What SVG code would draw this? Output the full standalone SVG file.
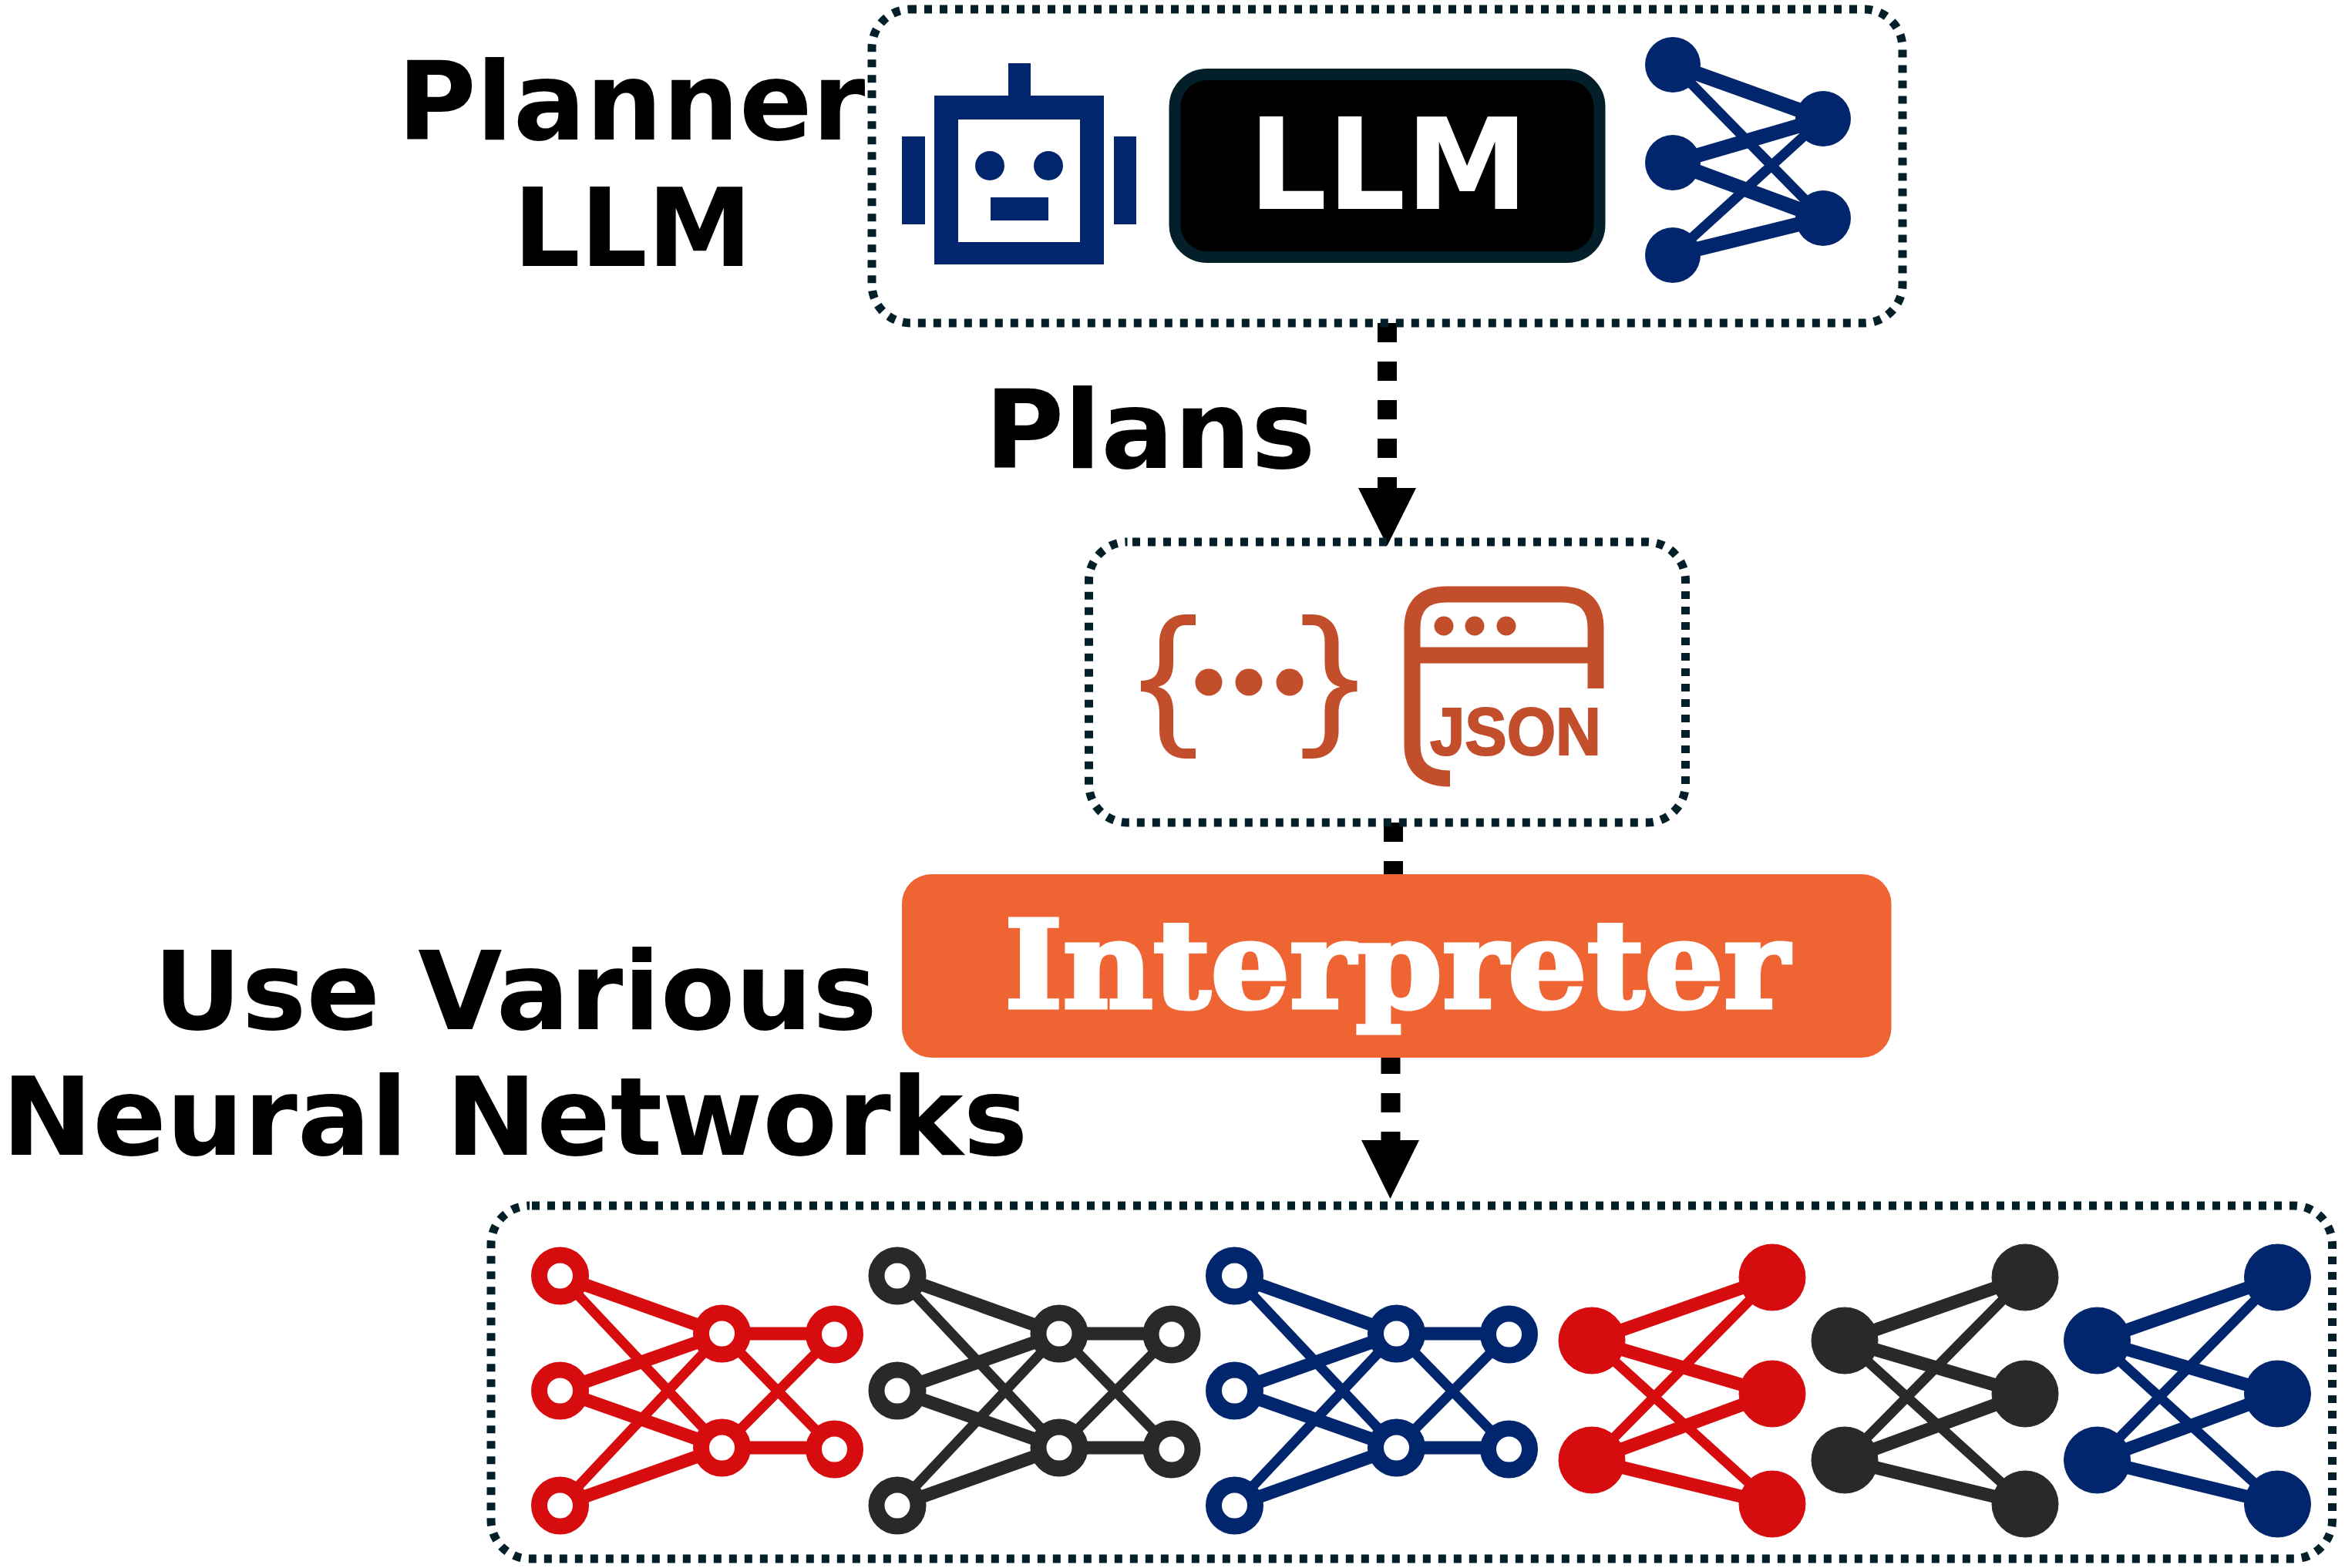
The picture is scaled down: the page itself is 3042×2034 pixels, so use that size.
<svg xmlns="http://www.w3.org/2000/svg" width="3042" height="2034" viewBox="0 0 3042 2034">
<style>
.box{fill:none;stroke:#03202a;stroke-width:11;stroke-dasharray:10 10}
.lbl{font-family:"DejaVu Sans","Liberation Sans",sans-serif;font-weight:700;font-size:141px;fill:#000}
.nr{fill:#d70c0f}.nk{fill:#292929}.nb{fill:#02266e}
.sr{stroke:#d70c0f}.sk{stroke:#292929}.sb{stroke:#02266e}
.t{stroke-width:17;fill:none}.n{stroke-width:13;fill:none}
.hole{fill:#fff;stroke-width:21}
.flow{stroke:#000;stroke-width:25;stroke-dasharray:25 25;fill:none}
.br{fill:#c24e2c}.jl{fill:none;stroke:#c24e2c;stroke-width:21}
</style>
<defs>
<g id="hollow">
<path class="t" d="M0 0L210 75M0 149L210 75M0 149L210 223M0 298L210 223M210 75H356M210 223H356"/>
<path class="n" d="M0 0L210 223M0 298L210 75M210 75L356 225M210 223L356 76"/>
</g>
<g id="hnodes">
<circle cx="0" cy="0" r="27"/><circle cx="0" cy="149" r="27"/><circle cx="0" cy="298" r="27"/>
<circle cx="210" cy="75" r="27"/><circle cx="210" cy="223" r="27"/><circle cx="356" cy="76" r="27"/><circle cx="356" cy="225" r="27"/>
</g>
<g id="solid">
<path class="t" d="M0 0L234 -82M0 0L234 69M0 155L234 69M0 155L234 212"/>
<path class="n" d="M0 0L234 212M0 155L234 -82"/>
<circle cx="0" cy="0" r="43"/><circle cx="0" cy="155" r="43"/><circle cx="234" cy="-82" r="43"/><circle cx="234" cy="69" r="43"/><circle cx="234" cy="212" r="43"/>
</g>
</defs>
<rect width="3042" height="2034" fill="#fff"/>
<g id="connectors">
<path class="flow" d="M1799.500 419V640"/>
<path class="flow" d="M1807.500 1067V1140"/>
<path class="flow" d="M1804 1368V1490"/>
<polygon points="1762,633 1837,633 1799.500,708"/>
<polygon points="1766,1479 1841,1479 1803.500,1555"/>
</g>
<g id="planner-box">
<rect class="box" x="1131" y="12" width="1337" height="407" rx="50" stroke-dashoffset="2"/>
<text class="lbl" x="515.500" y="181" textLength="607" lengthAdjust="spacingAndGlyphs">Planner</text>
<text class="lbl" x="665.700" y="345" textLength="310" lengthAdjust="spacingAndGlyphs">LLM</text>
</g>
<g id="robot" fill="#02266e">
<rect x="1170" y="177" width="30" height="114"/><rect x="1445" y="177" width="29" height="114"/>
<rect x="1308" y="82" width="29" height="45"/>
<path fill-rule="evenodd" d="M1212 124H1432V343H1212ZM1243 155V314H1401V155Z"/>
<circle cx="1284" cy="215" r="19"/><circle cx="1360" cy="215" r="19"/>
<rect x="1285" y="256" width="75" height="30"/>
</g>
<g id="llm">
<rect x="1524" y="96.500" width="551" height="237" rx="42" fill="#000" stroke="#03202a" stroke-width="15"/>
<text x="1619.600" y="271" font-family="DejaVu Sans,sans-serif" font-weight="700" font-size="164" fill="#fff" textLength="363" lengthAdjust="spacingAndGlyphs">LLM</text>
</g>
<g id="planner-net" class="sb">
<path stroke-width="19" fill="none" d="M2170 84L2365 154M2170 211L2365 154M2170 211L2365 283M2170 331L2365 283"/>
<path class="n" d="M2170 84L2365 283M2170 331L2365 154"/>
<g class="nb" stroke="none"><circle cx="2170" cy="84" r="36"/><circle cx="2170" cy="211" r="36"/><circle cx="2170" cy="331" r="36"/><circle cx="2365" cy="154" r="36"/><circle cx="2365" cy="283" r="36"/></g>
</g>
<g id="plans">
<text class="lbl" x="1277.400" y="607" textLength="429" lengthAdjust="spacingAndGlyphs">Plans</text>
</g>
<g id="json-box">
<rect class="box" x="1412.500" y="703" width="774" height="364" rx="50" stroke-dashoffset="13.500"/>
<path id="brace" class="br" d="M1551 797V811H1537C1527 811 1522 820 1522 832V860C1522 878 1515 888 1502 891C1515 894 1522 904 1522 922V950C1522 962 1527 971 1537 971H1551V984H1538C1517 984 1504 970 1504 948V925C1504 908 1498 897 1480 897V883C1498 883 1504 874 1504 857V834C1504 812 1517 797 1538 797Z"/>
<use href="#brace" transform="translate(3240.500 0) scale(-1 1)"/>
<g class="br"><circle cx="1568" cy="885" r="17.500"/><circle cx="1620" cy="885" r="17.500"/><circle cx="1673" cy="885" r="17.500"/></g>
<path class="jl" d="M2070 893V815Q2070 771 2026 771H1876Q1832 771 1832 815V966Q1832 1010 1881 1010M1832 850H2070"/>
<g class="br"><circle cx="1873" cy="812" r="12.500"/><circle cx="1913" cy="812" r="12.500"/><circle cx="1954" cy="812" r="12.500"/></g>
<text x="1855" y="979" font-family="Liberation Sans,sans-serif" font-weight="700" font-size="87" fill="#c24e2c" stroke="#c24e2c" stroke-width="2" textLength="222" lengthAdjust="spacingAndGlyphs">JSON</text>
</g>
<g id="interpreter">
<rect x="1170" y="1134" width="1283.500" height="238" rx="38" fill="#ee6433"/>
<text x="1303" y="1306.500" font-family="DejaVu Serif,serif" font-weight="700" font-size="158" fill="#fff" stroke="#fff" stroke-width="5" textLength="1018" lengthAdjust="spacingAndGlyphs">Interpreter</text>
</g>
<g id="networks-label">
<text class="lbl" x="199" y="1335" textLength="939" lengthAdjust="spacingAndGlyphs">Use Various</text>
<text class="lbl" x="2.300" y="1498" textLength="1331" lengthAdjust="spacingAndGlyphs">Neural Networks</text>
</g>
<g id="networks-box">
<rect class="box" x="637" y="1564" width="2388.500" height="458" rx="50" stroke-dashoffset="17"/>
</g>
<g id="net-red-hollow" transform="translate(726.500 1655)" class="sr"><use href="#hollow"/><use href="#hnodes" class="hole sr"/></g>
<g id="net-black-hollow" transform="translate(1164 1655)" class="sk"><use href="#hollow"/><use href="#hnodes" class="hole sk"/></g>
<g id="net-blue-hollow" transform="translate(1601.500 1655)" class="sb"><use href="#hollow"/><use href="#hnodes" class="hole sb"/></g>
<g id="net-red-solid" transform="translate(2065 1739)" class="sr nr"><use href="#solid"/></g>
<g id="net-black-solid" transform="translate(2393 1739)" class="sk nk"><use href="#solid"/></g>
<g id="net-blue-solid" transform="translate(2720.500 1739)" class="sb nb"><use href="#solid"/></g>
</svg>
